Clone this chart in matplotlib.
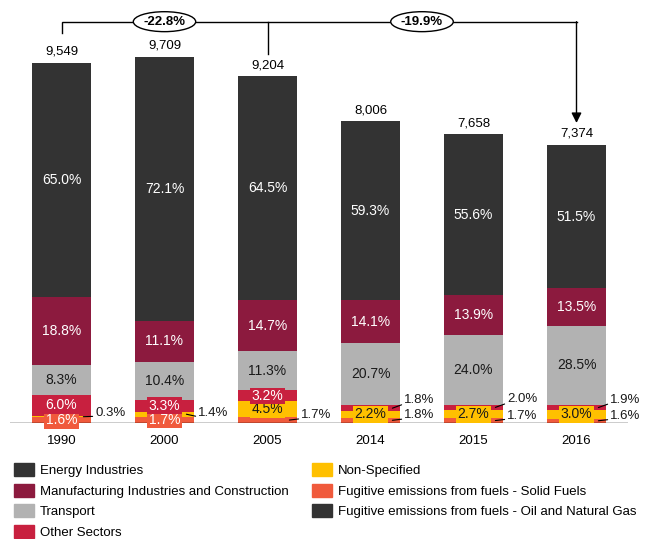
import matplotlib.pyplot as plt
from matplotlib.patches import Patch

plt.rcParams['font.family'] = ['Liberation Sans', 'DejaVu Sans']

years = ['1990', '2000', '2005', '2014', '2015', '2016']
totals = [9549, 9709, 9204, 8006, 7658, 7374]

# shares in % (bottom to top)
solid = [1.6, 1.7, 1.7, 1.8, 1.7, 1.6]
non_spec = [0.3, 1.4, 4.5, 2.2, 2.7, 3.0]
other = [6.0, 3.3, 3.2, 1.8, 2.0, 1.9]
transport = [8.3, 10.4, 11.3, 20.7, 24.0, 28.5]
manufacturing = [18.8, 11.1, 14.7, 14.1, 13.9, 13.5]
energy = [65.0, 72.1, 64.5, 59.3, 55.6, 51.5]
oil_gas = [0, 0, 0, 0, 0, 0]

changes = ['-22.8%', '-19.9%']

series = [
    ('Fugitive emissions from fuels - Solid Fuels', solid, '#F05A3C', 'white'),
    ('Non-Specified', non_spec, '#FFC000', '#1a1a1a'),
    ('Other Sectors', other, '#C8203F', 'white'),
    ('Transport', transport, '#B2B2B2', '#1a1a1a'),
    ('Manufacturing Industries and Construction', manufacturing, '#8C1A3E', 'white'),
    ('Energy Industries', energy, '#333333', 'white'),
]

# labels drawn beside the bar: (series, year index) -> vertical offset px
outside = {
    ('Non-Specified', 0): 4, ('Non-Specified', 1): 1,
    ('Fugitive emissions from fuels - Solid Fuels', 2): 5,
    ('Fugitive emissions from fuels - Solid Fuels', 3): 5,
    ('Fugitive emissions from fuels - Solid Fuels', 4): 5,
    ('Fugitive emissions from fuels - Solid Fuels', 5): 5,
    ('Other Sectors', 3): 8, ('Other Sectors', 4): 8, ('Other Sectors', 5): 8,
}

fig = plt.figure(figsize=(6.47, 5.39), dpi=100)
ax = fig.add_axes([10 / 647, 116 / 539, 618 / 647, 423 / 539])
ax.set_xlim(-0.5, 5.5)
ax.set_ylim(0, 11220)
ax.axis('off')

w = 0.565
x = list(range(len(years)))
bottoms = [0.0] * len(years)
sums = [sum(s[1][i] for s in series) for i in x]

for name, vals, color, tcolor in series:
    heights = [vals[i] / sums[i] * totals[i] for i in x]
    ax.bar(x, heights, w, bottom=bottoms, color=color, edgecolor='none', zorder=2)
    for i in x:
        yc = bottoms[i] + heights[i] / 2
        lab = '%.1f%%' % vals[i]
        if (name, i) in outside:
            dy = outside[(name, i)]
            ax.annotate(lab, xy=(i + w / 2 - 0.07, yc), xytext=(12, dy),
                        textcoords='offset pixels', ha='left', va='center',
                        fontsize=9.5, color='#1a1a1a', zorder=5,
                        arrowprops=dict(arrowstyle='-', lw=0.8, color='black',
                                        shrinkA=0, shrinkB=0, relpos=(0, 0.2)))
        else:
            ax.text(i, yc, lab, ha='center', va='center', fontsize=10,
                    color=tcolor, zorder=4,
                    bbox=dict(boxstyle='square,pad=0.1', fc=color, ec='none'))
    bottoms = [bottoms[i] + heights[i] for i in x]

ax.axhline(0, xmin=0, xmax=1, color='black', lw=1, zorder=3)

for i in x:
    ax.annotate('{:,}'.format(totals[i]), xy=(i, totals[i]), xytext=(0, 11),
                textcoords='offset pixels', ha='center', va='center', fontsize=9.5)
    ax.annotate(years[i], xy=(i, 0), xytext=(0, -18), textcoords='offset pixels',
                ha='center', va='center', fontsize=9.5)

# change brackets
yb = 10645
ax.plot([0, 0, 5], [10345, yb, yb], color='black', lw=1, zorder=3,
        clip_on=False, solid_joinstyle='miter')
ax.plot([2, 2], [9788, yb], color='black', lw=1, zorder=3)
ax.annotate('', xy=(5, 7958), xytext=(5, yb),
            arrowprops=dict(arrowstyle='-|>', color='black', lw=1,
                            mutation_scale=15, shrinkA=0, shrinkB=0))
for xc, txt in zip([1, 3.5], changes):
    ax.text(xc, yb, txt, ha='center', va='center', fontsize=9.5, fontweight='bold',
            zorder=6, bbox=dict(boxstyle='ellipse,pad=0.08', fc='white', ec='black', lw=1))

handles = [
    Patch(color='#333333', label='Energy Industries'),
    Patch(color='#8C1A3E', label='Manufacturing Industries and Construction'),
    Patch(color='#B2B2B2', label='Transport'),
    Patch(color='#C8203F', label='Other Sectors'),
    Patch(color='#FFC000', label='Non-Specified'),
    Patch(color='#F05A3C', label='Fugitive emissions from fuels - Solid Fuels'),
    Patch(color='#333333', label='Fugitive emissions from fuels - Oil and Natural Gas'),
]
leg_kw = dict(loc='upper left', frameon=False, fontsize=9.5, handlelength=1.5,
              handleheight=1.15, handletextpad=0.45, labelspacing=0.5,
              borderpad=0, borderaxespad=0)
fig.legend(handles=handles[:4], bbox_to_anchor=(14 / 647, 1 - 463 / 539), **leg_kw)
fig.legend(handles=handles[4:], bbox_to_anchor=(312 / 647, 1 - 463 / 539), **leg_kw)

fig.savefig('out.png', dpi=100)
